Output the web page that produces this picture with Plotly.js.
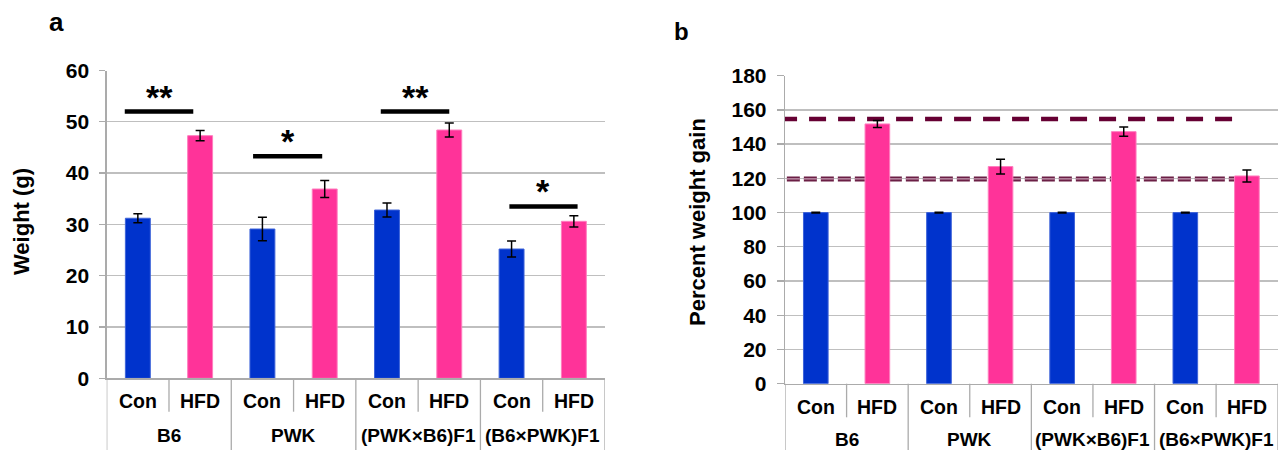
<!DOCTYPE html>
<html>
<head>
<meta charset="utf-8">
<script src="https://cdn.plot.ly/plotly-3.0.1.min.js"></script>
<style>html,body{margin:0;padding:0;background:#fff;}#chart{width:1283px;height:450px;}</style>
</head>
<body>
<div id="chart"></div>
<script>
// ---- data ----
const groups = ['B6', 'PWK', '(PWK×B6)F1', '(B6×PWK)F1'];
const diets = ['Con', 'HFD'];
const weightCon = [31.2, 29.1, 32.8, 25.2];
const weightConErr = [0.9, 2.3, 1.35, 1.55];
const weightHFD = [47.3, 36.9, 48.4, 30.6];
const weightHFDErr = [1.0, 1.65, 1.35, 1.1];
const gainCon = [100, 100, 100, 100];
const gainConErr = [0.2, 0.2, 0.2, 0.2];
const gainHFD = [151.8, 126.9, 147.3, 121.4];
const gainHFDErr = [2.0, 4.3, 2.7, 3.5];
const sigLevels = [52, 43.3, 52, 33.5];
const sigMarks = ['**', '*', '**', '*'];
const refLines = [154.7, 119.7];

// ---- styling / layout helpers ----
const FONT = 'Liberation Sans, Arial, sans-serif';
const BLUE = '#0033CC', PINK = '#FF3399', GRID = '#BFBFBF', AXIS = '#ABABAB';
const sigSpan = [[-0.21, 0.89], [-0.15, 0.96], [-0.10, 1.0], [-0.035, 1.06]];

const cats = [];
groups.forEach(g => diets.forEach(d => cats.push(g + '|' + d)));
const conCats = groups.map(g => g + '|Con');
const hfdCats = groups.map(g => g + '|HFD');

function barTrace(xa, ya, x, y, err, color, edge) {
  return {
    type: 'bar', x: x, y: y, xaxis: xa, yaxis: ya, width: 0.4,
    marker: {color: color, line: {color: edge, width: 1}},
    error_y: {type: 'data', array: err, visible: true, color: '#000', thickness: 1.5, width: 4.5},
    hoverinfo: 'y', showlegend: false
  };
}

const data = [
  barTrace('x', 'y', conCats, weightCon, weightConErr, BLUE, '#3D63D9'),
  barTrace('x', 'y', hfdCats, weightHFD, weightHFDErr, PINK, '#FF7DBE'),
  barTrace('x2', 'y2', conCats, gainCon, gainConErr, BLUE, '#3D63D9'),
  barTrace('x2', 'y2', hfdCats, gainHFD, gainHFDErr, PINK, '#FF7DBE')
];

const shapes = [];
const annotations = [];

// category labels and separators
function catAxis(xref, subY, grpY, innerBottom) {
  cats.forEach((c, i) => {
    annotations.push({xref: xref, yref: 'paper', x: i, y: subY, text: c.split('|')[1],
      showarrow: false, yanchor: 'middle', font: {family: FONT, size: 19.5, color: '#000', weight: 'bold'}});
  });
  groups.forEach((g, gi) => {
    annotations.push({xref: xref, yref: 'paper', x: gi * 2 + 0.5, y: grpY, text: g,
      showarrow: false, yanchor: 'middle', font: {family: FONT, size: 19, color: '#000', weight: 'bold'}});
  });
  const y0 = xref === 'x' ? (450 - 378.3) / 450 : (450 - 383.7) / 450;
  for (let k = 0; k <= cats.length; k++) {
    const isGroup = k % 2 === 0;
    shapes.push({type: 'line', xref: xref, yref: 'paper', x0: k - 0.5, x1: k - 0.5,
      y0: y0, y1: isGroup ? 0 : innerBottom, line: {color: AXIS, width: 1.3}});
  }
}
catAxis('x', (450 - 400.7) / 450, (450 - 435) / 450, (450 - 411.7) / 450);
catAxis('x2', (450 - 406.7) / 450, (450 - 439.3) / 450, (450 - 417.3) / 450);

// significance bars
sigLevels.forEach((lv, i) => {
  const x0 = i * 2 + sigSpan[i][0], x1 = i * 2 + sigSpan[i][1];
  shapes.push({type: 'line', xref: 'x', yref: 'y', x0: x0, x1: x1, y0: lv, y1: lv,
    layer: 'above', line: {color: '#000', width: 4.5}});
  annotations.push({xref: 'x', yref: 'y', x: (x0 + x1) / 2, y: lv, text: sigMarks[i],
    showarrow: false, yanchor: 'bottom', yshift: -6,
    font: {family: FONT, size: 34, color: '#000', weight: 'bold'}});
});

// reference dashed lines in panel b
shapes.push({type: 'line', xref: 'x2', yref: 'y2', x0: -0.58, x1: 6.91, y0: refLines[0], y1: refLines[0],
  layer: 'between', line: {color: '#660033', width: 4.5, dash: '17px,12px'}});
shapes.push({type: 'line', xref: 'x2', yref: 'y2', x0: -0.47, x1: 6.8, y0: refLines[1], y1: refLines[1],
  layer: 'between', line: {color: '#6B1F45', width: 5, dash: '13px,4px'}});
shapes.push({type: 'line', xref: 'x2', yref: 'y2', x0: -0.47, x1: 6.8, y0: refLines[1], y1: refLines[1],
  layer: 'between', line: {color: '#C9A0B6', width: 1.2, dash: '13px,4px'}});

// titles and panel letters
annotations.push({xref: 'paper', yref: 'paper', x: 22 / 1283, y: (450 - 222) / 450, text: 'Weight (g)',
  textangle: -90, showarrow: false, xanchor: 'center', yanchor: 'middle',
  font: {family: FONT, size: 22, color: '#000', weight: 'bold'}});
annotations.push({xref: 'paper', yref: 'paper', x: 698 / 1283, y: (450 - 222) / 450, text: 'Percent weight gain',
  textangle: -90, showarrow: false, xanchor: 'center', yanchor: 'middle',
  font: {family: FONT, size: 22, color: '#000', weight: 'bold'}});
annotations.push({xref: 'paper', yref: 'paper', x: 56 / 1283, y: (450 - 22) / 450, text: 'a',
  showarrow: false, xanchor: 'center', yanchor: 'middle', font: {family: FONT, size: 26, color: '#000', weight: 'bold'}});
annotations.push({xref: 'paper', yref: 'paper', x: 681 / 1283, y: (450 - 31) / 450, text: 'b',
  showarrow: false, xanchor: 'center', yanchor: 'middle', font: {family: FONT, size: 24, color: '#000', weight: 'bold'}});

function xAxis(domain, anchor) {
  return {domain: domain, anchor: anchor, type: 'category', categoryorder: 'array', categoryarray: cats,
    range: [-0.5, 7.5], showticklabels: false, ticks: '', showgrid: false, zeroline: false,
    showline: true, linecolor: AXIS, linewidth: 1.3, fixedrange: true};
}
function yAxis(domain, anchor, range, dtick, ticklen) {
  return {domain: domain, anchor: anchor, range: range, dtick: dtick, showline: true, linecolor: AXIS, linewidth: 1.3,
    ticks: 'outside', ticklen: ticklen, tickcolor: AXIS, tickwidth: 1.3, showgrid: true, gridcolor: GRID, gridwidth: 1.3,
    zeroline: false, ticklabelstandoff: 6, tickfont: {family: FONT, size: 21, color: '#000', weight: 'bold'}, fixedrange: true};
}

const layout = {
  width: 1283, height: 450, margin: {l: 0, r: 0, t: 0, b: 0},
  paper_bgcolor: '#fff', plot_bgcolor: '#fff', barmode: 'overlay', showlegend: false,
  xaxis: xAxis([106.7 / 1283, 605 / 1283], 'y'),
  yaxis: yAxis([(450 - 378.3) / 450, (450 - 70.5) / 450], 'x', [0, 60], 10, 6),
  xaxis2: xAxis([785 / 1283, 1277.7 / 1283], 'y2'),
  yaxis2: yAxis([(450 - 383.7) / 450, (450 - 75.7) / 450], 'x2', [0, 180], 20, 7),
  shapes: shapes, annotations: annotations
};

Plotly.newPlot('chart', data, layout, {displayModeBar: false, staticPlot: true});
</script>
</body>
</html>
